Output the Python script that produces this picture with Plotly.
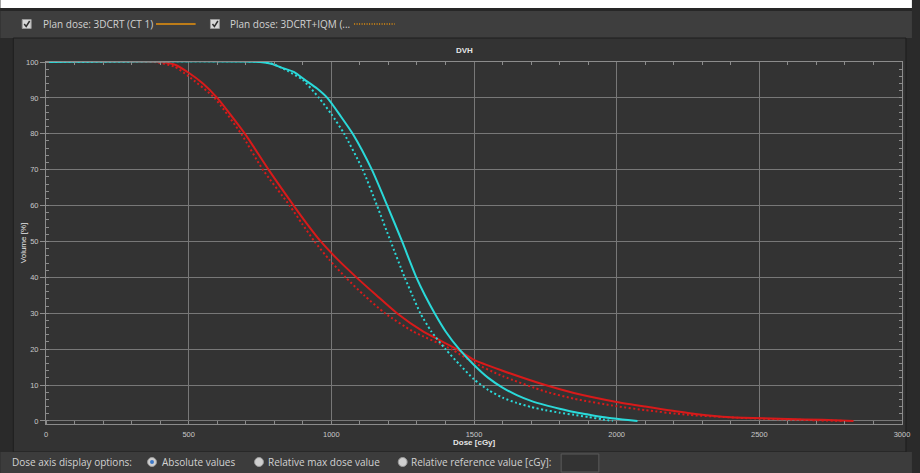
import plotly.graph_objects as go

# ---------------- data ----------------
red_solid_dose = [0, 400, 450, 500, 550, 600, 650, 700, 780, 868, 914, 963, 1022, 1088, 1158, 1230, 1320,
                  1440, 1500, 1600, 1750, 1850, 2000, 2100, 2250, 2370, 2480, 2600, 2720, 2830]
red_solid_vol = [100, 100, 99.3, 97, 94, 90, 85, 79.7, 70, 60, 55, 50, 45, 40, 35, 30, 25,
                 20, 17, 14, 10, 7.8, 5.3, 4, 2.2, 1.2, 0.8, 0.55, 0.3, 0]

red_dot_dose = [0, 380, 450, 500, 590, 684, 760, 854, 897, 941, 992, 1050, 1115, 1188, 1285, 1420,
                1500, 1600, 1750, 1850, 2000, 2100, 2250, 2450, 2600, 2800]
red_dot_vol = [100, 100, 98.7, 96, 90, 80, 70, 60, 55, 50, 45, 40, 35, 30, 25, 20,
               16.2, 12.5, 8.2, 6.2, 4.1, 3.0, 1.7, 0.8, 0.4, 0]

cyan_solid_dose = [0, 750, 790, 823, 870, 906, 950, 986, 1032, 1075, 1142, 1196, 1248, 1298, 1328,
                   1362, 1400, 1448, 1500, 1550, 1600, 1650, 1700, 1750, 1800, 1850, 1900, 1950,
                   2000, 2040, 2073]
cyan_solid_vol = [100, 100, 99.5, 98.5, 97.2, 95.1, 92.6, 90, 85, 80, 70, 60, 50, 40, 35,
                  30, 25, 20, 15.6, 12.0, 9.3, 7.2, 5.6, 4.4, 3.4, 2.5, 1.8, 1.1,
                  0.6, 0.25, 0]

cyan_dot_dose = [0, 760, 800, 847, 900, 957, 1000, 1045, 1110, 1160, 1208, 1257, 1284, 1312, 1350,
                 1400, 1452, 1500, 1550, 1600, 1650, 1700, 1750, 1800, 1850, 1900, 1950, 1986]
cyan_dot_vol = [100, 100, 99.3, 97.5, 95.0, 90, 85.5, 80, 70, 60, 50, 40, 35, 30, 25,
                20, 15.5, 11.6, 8.6, 6.5, 5.0, 3.9, 3.0, 2.3, 1.7, 1.1, 0.45, 0]

x_ticks = [0, 500, 1000, 1500, 2000, 2500, 3000]
y_ticks = [0, 10, 20, 30, 40, 50, 60, 70, 80, 90, 100]

legend_labels = ["Plan dose: 3DCRT (CT 1)", "Plan dose: 3DCRT+IQM (..."]
radio_labels = ["Absolute values", "Relative max dose value", "Relative reference value [cGy]:"]

# ---------------- geometry helpers (pixel -> paper) ----------------
WIDTH, HEIGHT = 920, 473
L, R, T, B = 46, 910, 62, 424
PW, PH = R - L, B - T


def X(px):
    return (px - L) / PW


def Y(py):
    return (B - py) / PH


RED = "#d81a1a"
CYAN = "#2ad9d9"
ORANGE = "#e8920c"
GRID = "#787878"
AXIS = "#8c8c8c"
TXT = "#d2d2d2"

fig = go.Figure()
fig.add_trace(go.Scatter(x=red_solid_dose, y=red_solid_vol, mode="lines", line_shape="spline",
                         line=dict(color=RED, width=2, smoothing=0.6), showlegend=False))
fig.add_trace(go.Scatter(x=red_dot_dose, y=red_dot_vol, mode="lines", line_shape="spline",
                         line=dict(color=RED, width=2, dash="2px,2.5px", smoothing=0.6), showlegend=False))
fig.add_trace(go.Scatter(x=cyan_solid_dose, y=cyan_solid_vol, mode="lines", line_shape="spline",
                         line=dict(color=CYAN, width=2, smoothing=0.6), showlegend=False))
fig.add_trace(go.Scatter(x=cyan_dot_dose, y=cyan_dot_vol, mode="lines", line_shape="spline",
                         line=dict(color=CYAN, width=2, dash="2px,2.5px", smoothing=0.6), showlegend=False))
# dummy trace for the mirrored (top/right) tick axes
fig.add_trace(go.Scatter(x=[None], y=[None], xaxis="x2", yaxis="y2", showlegend=False,
                         hoverinfo="skip"))

shapes = []


def rect(x0, y0, x1, y1, fill, line=None, lw=0):
    shapes.append(dict(type="rect", xref="paper", yref="paper",
                       x0=X(x0), x1=X(x1), y0=Y(y1), y1=Y(y0),
                       fillcolor=fill, line=dict(color=line or fill, width=lw), layer="below"))


# window chrome
rect(0, 0, 920, 8, "#ffffff")
rect(0, 8, 920, 11, "#262626")
rect(0, 11, 920, 38, "#3e3e3e")
rect(0, 38, 920, 473, "#2a2a2a")
rect(13, 38, 914, 452, "#333333", "#1e1e1e", 1)
rect(0, 452, 920, 473, "#3c3c3c")
rect(566, 454, 604, 472, "#333333", "#5a5a5a", 1)

# legend row
LEG_Y = 24
for cx in (22, 212):
    rect(cx, LEG_Y - 4.5, cx + 9, LEG_Y + 4.5, "#d8d8d8", "#9a9a9a", 1)
    shapes.append(dict(type="path", xref="paper", yref="paper",
                       path="M {} {} L {} {} L {} {}".format(X(cx + 2), Y(LEG_Y), X(cx + 4), Y(LEG_Y + 2.5),
                                                             X(cx + 7.5), Y(LEG_Y - 3)),
                       line=dict(color="#303030", width=1.5)))
shapes.append(dict(type="line", xref="paper", yref="paper", x0=X(157), x1=X(197), y0=Y(LEG_Y), y1=Y(LEG_Y),
                   line=dict(color=ORANGE, width=1.5)))
shapes.append(dict(type="line", xref="paper", yref="paper", x0=X(357), x1=X(398), y0=Y(LEG_Y), y1=Y(LEG_Y),
                   line=dict(color=ORANGE, width=1.5, dash="1px,1.5px")))

# radio buttons
RAD_Y = 462
for i, cx in enumerate((153, 261, 406)):
    shapes.append(dict(type="circle", xref="paper", yref="paper",
                       x0=X(cx - 4.5), x1=X(cx + 4.5), y0=Y(RAD_Y + 4.5), y1=Y(RAD_Y - 4.5),
                       fillcolor="#cfcfcf", line=dict(color="#9a9a9a", width=1)))
    if i == 0:
        shapes.append(dict(type="circle", xref="paper", yref="paper",
                           x0=X(cx - 2), x1=X(cx + 2), y0=Y(RAD_Y + 2), y1=Y(RAD_Y - 2),
                           fillcolor="#3b78c8", line=dict(color="#3b78c8", width=0)))

UI_FONT = "Open Sans"
ann = []


def text(px, py, s, size=10, color=TXT, anchor="left", family=UI_FONT, angle=0):
    ann.append(dict(xref="paper", yref="paper", x=X(px), y=Y(py), text=s, showarrow=False,
                    xanchor=anchor, yanchor="middle", textangle=angle,
                    font=dict(family=family, size=size, color=color)))


text(41, LEG_Y, legend_labels[0])
text(230, LEG_Y, legend_labels[1])
text(10, RAD_Y, "Dose axis display options:")
text(161, RAD_Y, radio_labels[0])
text(268, RAD_Y, radio_labels[1])
text(412, RAD_Y, radio_labels[2])

text(468, 50, "<b>DVH</b>", size=8, color="#e6e6e6", anchor="center", family="Arial")
text(478, 442, "<b>Dose [cGy]</b>", size=8, color="#e6e6e6", anchor="center", family="Arial")
text(23, 243, "Volume [%]", size=8, color="#e6e6e6", anchor="center", family="Arial", angle=-90)

tickfont = dict(family="Arial", size=7.5, color="#c8c8c8")

fig.update_layout(
    width=WIDTH, height=HEIGHT, autosize=False,
    margin=dict(l=L, r=WIDTH - R, t=T, b=HEIGHT - B, pad=0),
    paper_bgcolor="#2a2a2a", plot_bgcolor="#333333",
    shapes=shapes, annotations=ann,
    xaxis=dict(range=[0, 3000], tickvals=x_ticks, ticktext=[str(v) for v in x_ticks],
               showgrid=True, gridcolor=GRID, gridwidth=1, zeroline=False,
               showline=True, linecolor=AXIS, linewidth=1, mirror=True,
               ticks="", ticklabelstandoff=3, tickfont=tickfont,
               minor=dict(dtick=100, tick0=0, ticks="inside", ticklen=3, tickcolor=AXIS, showgrid=False)),
    yaxis=dict(range=[-0.85, 100], tickvals=y_ticks, ticktext=[str(v) for v in y_ticks],
               showgrid=True, gridcolor=GRID, gridwidth=1, zeroline=False,
               showline=True, linecolor=AXIS, linewidth=1, mirror=True,
               ticks="outside", ticklen=5, tickcolor=AXIS, tickfont=tickfont,
               minor=dict(dtick=2, tick0=0, ticks="inside", ticklen=3, tickcolor=AXIS, showgrid=False)),
    xaxis2=dict(range=[0, 3000], overlaying="x", side="top", anchor="y2", showgrid=False,
                zeroline=False, showticklabels=False, ticks="",
                minor=dict(dtick=100, tick0=0, ticks="inside", ticklen=3, tickcolor=AXIS, showgrid=False)),
    yaxis2=dict(range=[-0.85, 100], overlaying="y", side="right", anchor="x2", showgrid=False,
                zeroline=False, showticklabels=False, ticks="",
                minor=dict(dtick=2, tick0=0, ticks="inside", ticklen=3, tickcolor=AXIS, showgrid=False)),
    hovermode=False,
)

fig.write_html("out.html", config={"displayModeBar": False},
               post_script="document.body.style.margin='0';document.body.style.overflow='hidden';")
